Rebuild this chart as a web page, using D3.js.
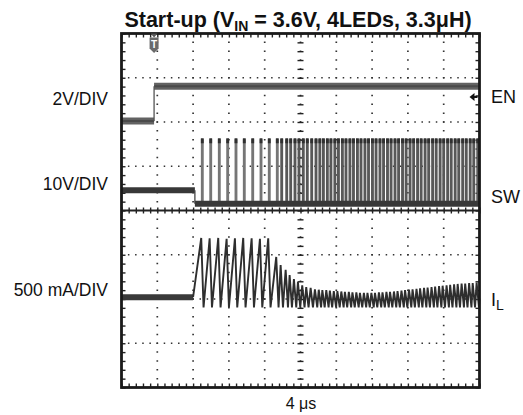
<!DOCTYPE html>
<html>
<head>
<meta charset="utf-8">
<script src="https://cdn.jsdelivr.net/npm/d3@7"></script>
<style>
html,body{margin:0;padding:0;background:#fff;}
svg{display:block;font-family:"Liberation Sans",Arial,sans-serif;}
</style>
</head>
<body>
<svg id="c" width="523" height="415"></svg>
<script>
// ---- data (divisions: x 0..10 at 4 µs/div, y -4..4) ----
const channelLabels = ["2V/DIV", "10V/DIV", "500 mA/DIV"];
const traceNames = ["EN", "SW", "I"];
const timeLabel = "4 μs";

const enTime  = [0, 0.91, 0.91, 10];
const enLevel = [2.02, 2.02, 2.81, 2.81];

const swStart = 2.05;
const swPre = 0.46;
const swLow = 0.155;
const swHigh = 1.61;
const swPulses = [2.257, 2.492, 2.732, 2.966, 3.198, 3.430, 3.665, 3.897, 4.128, 4.352,
  4.475, 4.615, 4.726, 4.846, 4.958, 5.078, 5.190, 5.313, 5.433,
  5.54, 5.64, 5.75, 5.85, 5.96, 6.06, 6.17, 6.27, 6.38, 6.48, 6.59, 6.69, 6.80, 6.90,
  7.01, 7.11, 7.22, 7.32, 7.43, 7.53, 7.64, 7.74, 7.85, 7.95, 8.06, 8.16, 8.27, 8.37,
  8.48, 8.58, 8.69, 8.79, 8.90, 9.00, 9.11, 9.21, 9.32, 9.42, 9.53, 9.63, 9.74, 9.84, 9.95];

const ilStart = 2.0;
const ilBase = -1.96;
const ilValley = -2.19;
const ilPeaks = [-0.62, -0.63, -0.62, -0.64, -0.63, -0.62, -0.63, -0.64, -0.63, -1.05,
  -1.23, -1.34, -1.46, -1.55, -1.62, -1.69, -1.73, -1.75, -1.78,
  -1.79, -1.80, -1.80, -1.81, -1.82, -1.82, -1.83, -1.84, -1.84, -1.85, -1.85, -1.86, -1.86, -1.86,
  -1.86, -1.86, -1.85, -1.85, -1.84, -1.84, -1.83, -1.82, -1.81, -1.80, -1.79, -1.78, -1.77, -1.76,
  -1.75, -1.74, -1.73, -1.72, -1.71, -1.70, -1.69, -1.68, -1.67, -1.66, -1.65, -1.65, -1.64, -1.64, -1.63];

// ---- layout ----
const L = 121.5, R = 479.5, T = 33.5, B = 387.5;
const x = d3.scaleLinear().domain([0, 10]).range([L, R]);
const y = d3.scaleLinear().domain([-4, 4]).range([B, T]);
const svg = d3.select("#c");

// title
const title = svg.append("text").attr("x", 298).attr("y", 27).attr("text-anchor", "middle")
  .attr("font-weight", "bold").attr("font-size", 21.5).attr("fill", "#111");
title.append("tspan").text("Start-up (V");
title.append("tspan").attr("font-size", 14).attr("dy", 4).text("IN");
title.append("tspan").attr("dy", -4).text(" = 3.6V, 4LEDs, 3.3μH)");

// grid (dotted)
const divX = d3.range(1, 10).filter(d => d !== 5);
const divY = d3.range(-3, 4).filter(d => d !== 0);
const g = svg.append("g");
const dx = (x(1) - x(0)) / 5, dy = (y(0) - y(1)) / 5;
g.selectAll(".vg").data(divX).join("line")
  .attr("x1", d => x(d)).attr("x2", d => x(d)).attr("y1", T).attr("y2", B)
  .attr("stroke", "#333").attr("stroke-width", 1.7)
  .attr("stroke-dasharray", `1.5,${dy - 1.5}`).attr("stroke-dashoffset", 0.75);
g.selectAll(".hg").data(divY).join("line")
  .attr("y1", d => y(d)).attr("y2", d => y(d)).attr("x1", L).attr("x2", R)
  .attr("stroke", "#333").attr("stroke-width", 1.7)
  .attr("stroke-dasharray", `1.5,${dx - 1.5}`).attr("stroke-dashoffset", 0.75);
// center lines
g.append("line").attr("x1", x(5)).attr("x2", x(5)).attr("y1", T).attr("y2", B)
  .attr("stroke", "#333").attr("stroke-width", 1.7)
  .attr("stroke-dasharray", `1.5,${dy - 1.5}`).attr("stroke-dashoffset", 0.75);
g.append("line").attr("x1", L).attr("x2", R).attr("y1", y(0)).attr("y2", y(0))
  .attr("stroke", "#222").attr("stroke-width", 2.2);

// ticks via axes
const minorX = d3.range(0, 50.01, 1).map(d => d / 5);
const minorY = d3.range(-20, 20.01, 1).map(d => d / 5);
function styleAxis(sel) {
  sel.select(".domain").remove();
  sel.selectAll(".tick line").attr("stroke", "#222").attr("stroke-width", 1.4);
  sel.selectAll(".tick text").remove();
}
svg.append("g").attr("transform", `translate(0,${T})`)
  .call(d3.axisBottom(x).tickValues(minorX).tickSize(4).tickFormat("")).call(styleAxis);
svg.append("g").attr("transform", `translate(0,${B})`)
  .call(d3.axisTop(x).tickValues(minorX).tickSize(4).tickFormat("")).call(styleAxis);
svg.append("g").attr("transform", `translate(${L},0)`)
  .call(d3.axisRight(y).tickValues(minorY).tickSize(4).tickFormat("")).call(styleAxis);
svg.append("g").attr("transform", `translate(${R},0)`)
  .call(d3.axisLeft(y).tickValues(minorY).tickSize(4).tickFormat("")).call(styleAxis);
svg.append("g").attr("transform", `translate(0,${y(0) - 3})`)
  .call(d3.axisBottom(x).tickValues(minorX).tickSize(6).tickFormat("")).call(styleAxis);
svg.append("g").attr("transform", `translate(${x(5) - 3},0)`)
  .call(d3.axisRight(y).tickValues(minorY).tickSize(6).tickFormat("")).call(styleAxis);

// ---- traces ----
const line = d3.line().x(d => x(d[0])).y(d => y(d[1]));

// EN: noisy bands (thick) + thin step edge
const enPts = enTime.map((t, i) => [t, enLevel[i]]);
[[enPts[0], enPts[1]], [enPts[2], enPts[3]]].forEach(seg => {
  svg.append("path").attr("d", line(seg)).attr("fill", "none")
    .attr("stroke", "#626262").attr("stroke-width", 7);
  svg.append("path").attr("d", line(seg)).attr("fill", "none")
    .attr("stroke", "#4a4a4a").attr("stroke-width", 2);
});
svg.append("path").attr("d", line([enPts[1], enPts[2]])).attr("fill", "none")
  .attr("stroke", "#555").attr("stroke-width", 1.3);

// SW pulses (start-up pulses lighter, dense switching darker)
const pw = 0.04;
svg.append("g").selectAll("rect").data(swPulses).join("rect")
  .attr("x", d => x(d - pw)).attr("width", x(2 * pw) - x(0))
  .attr("y", y(swHigh)).attr("height", y(swLow) - y(swHigh))
  .attr("fill", (d, i) => i < 10 ? "#767676" : "#585858");
svg.append("g").selectAll("rect").data(swPulses).join("rect")
  .attr("x", d => x(d - pw)).attr("width", x(2 * pw) - x(0))
  .attr("y", y(swHigh) - 1).attr("height", 5)
  .attr("fill", "#303030");
const swSegs = [[[0, swPre], [swStart, swPre]], [[swStart, swLow], [10, swLow]]];
swSegs.forEach(seg => {
  svg.append("path").attr("d", line(seg)).attr("fill", "none")
    .attr("stroke", "#383838").attr("stroke-width", 6);
});
svg.append("path").attr("d", line([[swStart, swPre], [swStart, swLow]])).attr("fill", "none")
  .attr("stroke", "#444").attr("stroke-width", 1.3);

// IL
const ilPts = [[0, ilBase], [ilStart, ilBase]];
swPulses.forEach((p, i) => { ilPts.push([p - 0.03, ilPeaks[i]]); ilPts.push([p + 0.035, ilValley]); });
ilPts.push([10, ilValley + 0.2]);
svg.append("path").attr("d", line(ilPts.slice(0, 2))).attr("fill", "none")
  .attr("stroke", "#3a3a3a").attr("stroke-width", 6);
svg.append("path").attr("d", line(ilPts.slice(1))).attr("fill", "none")
  .attr("stroke", "#2e2e2e").attr("stroke-width", 1.9).attr("stroke-linejoin", "miter");

// border
svg.append("rect").attr("x", L).attr("y", T).attr("width", R - L).attr("height", B - T)
  .attr("fill", "none").attr("stroke", "#1a1a1a").attr("stroke-width", 2.8);

// trigger marker
const tx = x(enTime[1]);
svg.append("path")
  .attr("d", `M${tx - 4.5},${T + 4} L${tx - 4.5},${T + 15} L${tx},${T + 19.5} L${tx + 4.5},${T + 15} L${tx + 4.5},${T + 4} Z`)
  .attr("fill", "#6a6a6a");
svg.append("path").attr("d", `M${tx - 3.5},${T} L${tx + 3.5},${T} L${tx},${T + 4} Z`).attr("fill", "#555");
svg.append("text").attr("x", tx).attr("y", T + 14.5).attr("text-anchor", "middle")
  .attr("font-size", 10).attr("font-weight", "bold").attr("fill", "#fff").text("T");

// EN ground marker arrow
const ay = 97;
svg.append("path").attr("d", `M${R - 10},${ay} L${R - 5},${ay - 4} L${R - 5},${ay + 4} Z`).attr("fill", "#111");
svg.append("line").attr("x1", R - 6).attr("x2", R - 2).attr("y1", ay).attr("y2", ay)
  .attr("stroke", "#111").attr("stroke-width", 2);

// channel labels (left)
const leftY = [105, 190, 296];
svg.append("g").selectAll("text").data(channelLabels).join("text")
  .attr("x", 108).attr("y", (d, i) => leftY[i]).attr("text-anchor", "end")
  .attr("font-size", 17.5).attr("fill", "#111").text(d => d);

// trace names (right)
const rightY = [103, 203, 306];
const rt = svg.append("g").selectAll("text").data(traceNames).join("text")
  .attr("x", 491).attr("y", (d, i) => rightY[i])
  .attr("font-size", 18).attr("fill", "#111").text(d => d);
rt.filter((d, i) => i === 2).append("tspan").attr("font-size", 14).attr("dy", 4).text("L");

// time label
svg.append("text").attr("x", 301).attr("y", 409).attr("text-anchor", "middle")
  .attr("font-size", 16).attr("fill", "#111").text(timeLabel);
</script>
</body>
</html>
